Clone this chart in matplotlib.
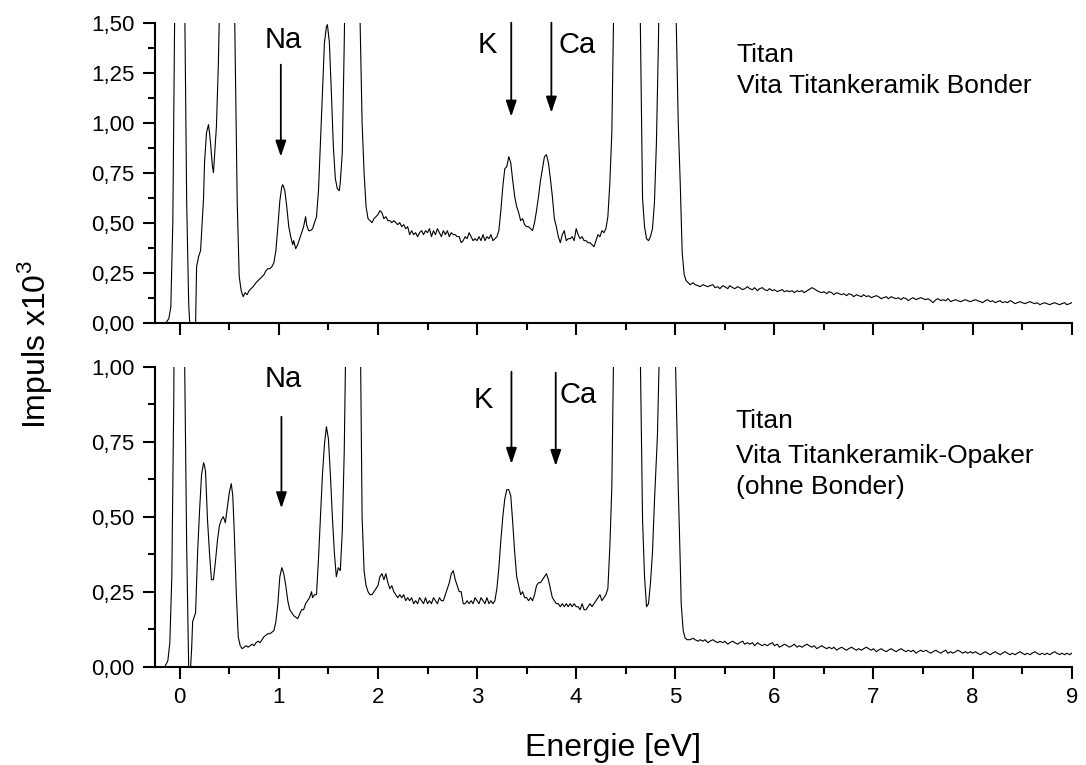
import matplotlib
matplotlib.use("Agg")
import matplotlib.pyplot as plt
from matplotlib.ticker import MultipleLocator, FuncFormatter

plt.rcParams['font.family'] = ['Liberation Sans', 'DejaVu Sans']
plt.rcParams['mathtext.fontset'] = 'custom'
plt.rcParams['mathtext.rm'] = 'Liberation Sans'

# Spektrum oben: Titan / Vita Titankeramik Bonder  (Energie eV, Impulse x10^3)
top_spectrum = [
    (-0.14, 0.0), (-0.11, 0.02), (-0.09, 0.08), (-0.07, 0.5), (-0.05, 1.6), (-0.02, 4.0),
    (0.02, 3.0), (0.05, 1.6), (0.07, 0.6), (0.09, 0.1), (0.10, 0.0), (0.12, 0.0),
    (0.14, 0.0), (0.16, 0.0), (0.17, 0.28), (0.19, 0.33), (0.21, 0.36), (0.22, 0.45),
    (0.24, 0.62), (0.25, 0.80), (0.27, 0.95), (0.29, 0.99), (0.30, 0.95), (0.31, 0.90),
    (0.33, 0.78), (0.34, 0.75), (0.36, 0.90), (0.37, 0.98), (0.39, 1.3), (0.41, 1.8),
    (0.45, 3.0), (0.50, 4.5), (0.54, 2.0), (0.555, 1.5), (0.58, 0.6), (0.60, 0.23),
    (0.62, 0.16), (0.64, 0.13), (0.66, 0.15), (0.68, 0.14), (0.70, 0.16), (0.72, 0.17),
    (0.74, 0.18), (0.77, 0.20), (0.79, 0.21), (0.81, 0.22), (0.83, 0.23), (0.85, 0.24),
    (0.87, 0.26), (0.89, 0.27), (0.91, 0.27), (0.93, 0.28), (0.95, 0.30), (0.97, 0.36),
    (0.99, 0.48), (1.01, 0.61), (1.03, 0.68), (1.04, 0.69), (1.06, 0.66), (1.08, 0.58),
    (1.10, 0.48), (1.12, 0.43), (1.14, 0.39), (1.15, 0.41), (1.17, 0.37), (1.19, 0.39),
    (1.21, 0.42), (1.23, 0.45), (1.25, 0.48), (1.27, 0.53), (1.28, 0.49), (1.30, 0.46),
    (1.32, 0.46), (1.34, 0.47), (1.36, 0.50), (1.38, 0.53), (1.40, 0.66), (1.42, 0.90),
    (1.44, 1.15), (1.46, 1.40), (1.48, 1.48), (1.49, 1.49), (1.51, 1.40), (1.53, 1.15),
    (1.55, 0.88), (1.57, 0.72), (1.59, 0.67), (1.61, 0.66), (1.62, 0.70), (1.64, 0.85),
    (1.66, 1.4), (1.69, 2.5), (1.74, 4.0), (1.79, 2.5), (1.82, 1.5), (1.84, 1.0),
    (1.86, 0.75), (1.88, 0.58), (1.90, 0.52), (1.92, 0.51), (1.94, 0.50), (1.96, 0.52),
    (1.98, 0.53), (2.00, 0.54), (2.02, 0.56), (2.04, 0.55), (2.06, 0.52), (2.08, 0.53),
    (2.10, 0.51), (2.12, 0.51), (2.14, 0.50), (2.16, 0.51), (2.18, 0.50), (2.20, 0.49),
    (2.22, 0.50), (2.24, 0.48), (2.26, 0.49), (2.28, 0.47), (2.30, 0.48), (2.32, 0.44),
    (2.34, 0.46), (2.36, 0.44), (2.38, 0.45), (2.40, 0.43), (2.42, 0.45), (2.44, 0.46),
    (2.46, 0.44), (2.48, 0.46), (2.50, 0.45), (2.52, 0.47), (2.54, 0.43), (2.56, 0.46),
    (2.58, 0.44), (2.60, 0.47), (2.62, 0.45), (2.64, 0.43), (2.66, 0.46), (2.68, 0.44),
    (2.70, 0.46), (2.72, 0.43), (2.74, 0.45), (2.76, 0.44), (2.78, 0.44), (2.80, 0.43),
    (2.82, 0.43), (2.84, 0.40), (2.86, 0.41), (2.88, 0.43), (2.90, 0.42), (2.92, 0.45),
    (2.94, 0.43), (2.96, 0.41), (2.98, 0.42), (3.00, 0.41), (3.02, 0.43), (3.04, 0.41),
    (3.06, 0.44), (3.08, 0.41), (3.10, 0.43), (3.12, 0.42), (3.14, 0.44), (3.16, 0.41),
    (3.18, 0.42), (3.20, 0.43), (3.22, 0.46), (3.24, 0.56), (3.26, 0.68), (3.28, 0.77),
    (3.30, 0.78), (3.32, 0.83), (3.34, 0.80), (3.36, 0.71), (3.38, 0.63), (3.40, 0.58),
    (3.42, 0.55), (3.44, 0.51), (3.46, 0.52), (3.48, 0.49), (3.50, 0.48), (3.52, 0.48),
    (3.54, 0.47), (3.56, 0.46), (3.58, 0.50), (3.60, 0.56), (3.62, 0.63), (3.64, 0.71),
    (3.66, 0.77), (3.68, 0.83), (3.70, 0.84), (3.72, 0.80), (3.74, 0.72), (3.76, 0.63),
    (3.78, 0.52), (3.80, 0.48), (3.82, 0.43), (3.84, 0.40), (3.86, 0.44), (3.88, 0.46),
    (3.90, 0.41), (3.92, 0.42), (3.94, 0.42), (3.96, 0.43), (3.98, 0.41), (4.00, 0.47),
    (4.02, 0.44), (4.04, 0.42), (4.06, 0.43), (4.08, 0.41), (4.10, 0.41), (4.12, 0.40),
    (4.14, 0.40), (4.16, 0.39), (4.18, 0.38), (4.20, 0.41), (4.22, 0.44), (4.24, 0.43),
    (4.26, 0.46), (4.28, 0.45), (4.30, 0.47), (4.32, 0.53), (4.34, 0.70), (4.36, 0.95),
    (4.38, 1.6), (4.42, 4.0), (4.51, 6.0), (4.60, 4.0), (4.645, 1.6), (4.67, 0.62),
    (4.69, 0.48), (4.71, 0.42), (4.73, 0.41), (4.75, 0.43), (4.77, 0.47), (4.79, 0.60),
    (4.81, 0.90), (4.83, 1.4), (4.86, 2.5), (4.93, 3.5), (4.99, 2.0), (5.01, 1.5),
    (5.03, 1.0), (5.05, 0.7), (5.07, 0.35), (5.09, 0.24), (5.11, 0.21), (5.13, 0.20),
    (5.15, 0.19), (5.18, 0.20), (5.20, 0.19), (5.23, 0.185), (5.25, 0.18), (5.28, 0.19),
    (5.30, 0.185), (5.33, 0.18), (5.35, 0.185), (5.38, 0.19), (5.40, 0.175), (5.43, 0.18),
    (5.45, 0.17), (5.48, 0.185), (5.50, 0.18), (5.53, 0.17), (5.55, 0.185), (5.58, 0.175),
    (5.60, 0.17), (5.63, 0.18), (5.65, 0.175), (5.68, 0.165), (5.70, 0.17), (5.73, 0.18),
    (5.75, 0.17), (5.78, 0.165), (5.80, 0.175), (5.83, 0.16), (5.85, 0.17), (5.88, 0.175),
    (5.90, 0.165), (5.93, 0.16), (5.95, 0.17), (5.98, 0.16), (6.00, 0.165), (6.03, 0.155),
    (6.05, 0.16), (6.08, 0.165), (6.10, 0.155), (6.13, 0.16), (6.15, 0.155), (6.18, 0.16),
    (6.20, 0.15), (6.23, 0.16), (6.25, 0.155), (6.28, 0.16), (6.30, 0.15), (6.33, 0.16),
    (6.35, 0.165), (6.38, 0.175), (6.40, 0.17), (6.43, 0.16), (6.45, 0.155), (6.48, 0.15),
    (6.50, 0.155), (6.53, 0.145), (6.55, 0.155), (6.58, 0.15), (6.60, 0.14), (6.63, 0.15),
    (6.65, 0.145), (6.68, 0.14), (6.70, 0.145), (6.73, 0.135), (6.75, 0.145), (6.78, 0.14),
    (6.80, 0.13), (6.83, 0.14), (6.85, 0.135), (6.88, 0.13), (6.90, 0.14), (6.93, 0.13),
    (6.95, 0.135), (6.98, 0.125), (7.00, 0.13), (7.03, 0.135), (7.05, 0.13), (7.08, 0.12),
    (7.10, 0.125), (7.13, 0.13), (7.15, 0.12), (7.18, 0.13), (7.20, 0.125), (7.23, 0.12),
    (7.25, 0.125), (7.28, 0.115), (7.30, 0.125), (7.33, 0.12), (7.35, 0.11), (7.38, 0.12),
    (7.40, 0.125), (7.43, 0.115), (7.45, 0.12), (7.48, 0.125), (7.50, 0.12), (7.53, 0.115),
    (7.55, 0.12), (7.58, 0.11), (7.60, 0.10), (7.63, 0.115), (7.65, 0.12), (7.68, 0.11),
    (7.70, 0.115), (7.73, 0.11), (7.75, 0.12), (7.78, 0.105), (7.80, 0.11), (7.83, 0.115),
    (7.85, 0.11), (7.88, 0.105), (7.90, 0.11), (7.93, 0.115), (7.95, 0.11), (7.98, 0.105),
    (8.00, 0.11), (8.03, 0.115), (8.05, 0.11), (8.08, 0.105), (8.10, 0.10), (8.13, 0.11),
    (8.15, 0.115), (8.18, 0.105), (8.20, 0.11), (8.23, 0.10), (8.25, 0.105), (8.28, 0.11),
    (8.30, 0.10), (8.33, 0.105), (8.35, 0.10), (8.38, 0.11), (8.40, 0.105), (8.43, 0.095),
    (8.45, 0.10), (8.48, 0.105), (8.50, 0.10), (8.53, 0.095), (8.55, 0.10), (8.58, 0.105),
    (8.60, 0.10), (8.63, 0.095), (8.65, 0.10), (8.68, 0.09), (8.70, 0.095), (8.73, 0.10),
    (8.75, 0.095), (8.78, 0.09), (8.80, 0.095), (8.83, 0.10), (8.85, 0.095), (8.88, 0.09),
    (8.90, 0.095), (8.93, 0.10), (8.95, 0.09), (8.98, 0.095), (9.00, 0.10),
]

# Spektrum unten: Titan / Vita Titankeramik-Opaker (ohne Bonder)
bottom_spectrum = [
    (-0.15, 0.0), (-0.12, 0.02), (-0.10, 0.08), (-0.08, 0.3), (-0.06, 0.9), (-0.03, 3.0),
    (0.02, 2.5), (0.05, 1.0), (0.07, 0.4), (0.09, 0.0), (0.11, 0.0), (0.12, 0.06),
    (0.13, 0.15), (0.15, 0.17), (0.16, 0.18), (0.18, 0.38), (0.20, 0.52), (0.22, 0.64),
    (0.24, 0.68), (0.25, 0.67), (0.26, 0.65), (0.28, 0.49), (0.30, 0.38), (0.32, 0.29),
    (0.34, 0.29), (0.36, 0.35), (0.38, 0.42), (0.40, 0.47), (0.42, 0.49), (0.44, 0.50),
    (0.46, 0.48), (0.48, 0.53), (0.50, 0.58), (0.52, 0.61), (0.535, 0.57), (0.55, 0.45),
    (0.57, 0.25), (0.59, 0.10), (0.61, 0.07), (0.63, 0.06), (0.65, 0.065), (0.67, 0.07),
    (0.69, 0.065), (0.71, 0.07), (0.73, 0.075), (0.75, 0.07), (0.77, 0.08), (0.79, 0.085),
    (0.81, 0.08), (0.83, 0.09), (0.85, 0.10), (0.87, 0.105), (0.89, 0.11), (0.91, 0.11),
    (0.93, 0.115), (0.95, 0.12), (0.97, 0.15), (0.99, 0.21), (1.01, 0.30), (1.03, 0.33),
    (1.05, 0.31), (1.07, 0.27), (1.09, 0.22), (1.11, 0.19), (1.13, 0.18), (1.15, 0.17),
    (1.17, 0.165), (1.19, 0.16), (1.21, 0.175), (1.23, 0.19), (1.25, 0.19), (1.27, 0.21),
    (1.29, 0.22), (1.31, 0.23), (1.33, 0.25), (1.34, 0.23), (1.36, 0.24), (1.38, 0.24),
    (1.40, 0.36), (1.42, 0.50), (1.44, 0.64), (1.46, 0.74), (1.48, 0.80), (1.50, 0.76),
    (1.52, 0.64), (1.54, 0.50), (1.56, 0.38), (1.58, 0.30), (1.60, 0.33), (1.62, 0.32),
    (1.64, 0.45), (1.66, 0.72), (1.68, 1.2), (1.72, 3.0), (1.76, 4.0), (1.80, 2.0),
    (1.82, 1.2), (1.84, 0.5), (1.86, 0.32), (1.88, 0.27), (1.90, 0.25), (1.92, 0.24),
    (1.94, 0.24), (1.96, 0.25), (1.98, 0.26), (2.00, 0.27), (2.02, 0.30), (2.04, 0.31),
    (2.06, 0.29), (2.08, 0.31), (2.10, 0.28), (2.12, 0.26), (2.14, 0.27), (2.16, 0.25),
    (2.18, 0.24), (2.20, 0.23), (2.22, 0.24), (2.24, 0.23), (2.26, 0.24), (2.28, 0.22),
    (2.30, 0.23), (2.32, 0.22), (2.34, 0.23), (2.36, 0.21), (2.38, 0.22), (2.40, 0.21),
    (2.42, 0.23), (2.44, 0.22), (2.46, 0.21), (2.48, 0.23), (2.50, 0.21), (2.52, 0.22),
    (2.54, 0.21), (2.56, 0.23), (2.58, 0.22), (2.60, 0.21), (2.62, 0.23), (2.64, 0.22),
    (2.66, 0.22), (2.68, 0.24), (2.70, 0.26), (2.72, 0.28), (2.74, 0.31), (2.76, 0.32),
    (2.78, 0.29), (2.80, 0.27), (2.82, 0.25), (2.84, 0.25), (2.86, 0.21), (2.88, 0.21),
    (2.90, 0.22), (2.92, 0.21), (2.94, 0.22), (2.96, 0.21), (2.98, 0.23), (3.00, 0.22),
    (3.02, 0.21), (3.04, 0.23), (3.06, 0.22), (3.08, 0.21), (3.10, 0.23), (3.12, 0.21),
    (3.14, 0.22), (3.16, 0.21), (3.18, 0.22), (3.20, 0.26), (3.22, 0.33), (3.24, 0.42),
    (3.26, 0.50), (3.28, 0.56), (3.30, 0.59), (3.32, 0.59), (3.34, 0.57), (3.36, 0.48),
    (3.38, 0.38), (3.40, 0.30), (3.42, 0.27), (3.44, 0.24), (3.46, 0.25), (3.48, 0.23),
    (3.50, 0.23), (3.52, 0.22), (3.54, 0.23), (3.56, 0.22), (3.58, 0.24), (3.60, 0.27),
    (3.62, 0.28), (3.64, 0.28), (3.66, 0.29), (3.68, 0.30), (3.70, 0.31), (3.72, 0.29),
    (3.74, 0.26), (3.76, 0.23), (3.78, 0.22), (3.80, 0.21), (3.82, 0.21), (3.84, 0.20),
    (3.86, 0.21), (3.88, 0.20), (3.90, 0.21), (3.92, 0.20), (3.94, 0.21), (3.96, 0.20),
    (3.98, 0.21), (4.00, 0.20), (4.02, 0.20), (4.04, 0.19), (4.06, 0.21), (4.08, 0.19),
    (4.10, 0.19), (4.12, 0.20), (4.14, 0.21), (4.16, 0.20), (4.18, 0.21), (4.20, 0.22),
    (4.22, 0.23), (4.24, 0.24), (4.26, 0.22), (4.28, 0.23), (4.30, 0.24), (4.32, 0.26),
    (4.34, 0.40), (4.36, 0.60), (4.38, 1.1), (4.42, 3.0), (4.51, 6.0), (4.60, 3.0),
    (4.645, 1.1), (4.67, 0.49), (4.69, 0.30), (4.71, 0.20), (4.73, 0.21), (4.75, 0.28),
    (4.77, 0.38), (4.79, 0.55), (4.82, 0.77), (4.85, 1.2), (4.93, 3.5), (4.99, 1.2),
    (5.03, 0.60), (5.05, 0.35), (5.06, 0.21), (5.08, 0.12), (5.10, 0.095), (5.12, 0.09),
    (5.15, 0.09), (5.18, 0.095), (5.20, 0.09), (5.23, 0.085), (5.25, 0.09), (5.28, 0.085),
    (5.30, 0.09), (5.33, 0.08), (5.35, 0.085), (5.38, 0.09), (5.40, 0.085), (5.43, 0.08),
    (5.45, 0.085), (5.48, 0.08), (5.50, 0.085), (5.53, 0.075), (5.55, 0.08), (5.58, 0.085),
    (5.60, 0.08), (5.63, 0.075), (5.65, 0.08), (5.68, 0.085), (5.70, 0.075), (5.73, 0.08),
    (5.75, 0.075), (5.78, 0.08), (5.80, 0.07), (5.83, 0.08), (5.85, 0.075), (5.88, 0.07),
    (5.90, 0.075), (5.93, 0.07), (5.95, 0.075), (5.98, 0.08), (6.00, 0.07), (6.03, 0.075),
    (6.05, 0.065), (6.08, 0.07), (6.10, 0.075), (6.13, 0.07), (6.15, 0.065), (6.18, 0.07),
    (6.20, 0.075), (6.23, 0.065), (6.25, 0.07), (6.28, 0.065), (6.30, 0.07), (6.33, 0.075),
    (6.35, 0.07), (6.38, 0.065), (6.40, 0.07), (6.43, 0.06), (6.45, 0.065), (6.48, 0.07),
    (6.50, 0.065), (6.53, 0.06), (6.55, 0.065), (6.58, 0.06), (6.60, 0.065), (6.63, 0.055),
    (6.65, 0.06), (6.68, 0.065), (6.70, 0.06), (6.73, 0.055), (6.75, 0.06), (6.78, 0.065),
    (6.80, 0.06), (6.83, 0.055), (6.85, 0.06), (6.88, 0.055), (6.90, 0.06), (6.93, 0.065),
    (6.95, 0.06), (6.98, 0.055), (7.00, 0.06), (7.03, 0.05), (7.05, 0.055), (7.08, 0.06),
    (7.10, 0.055), (7.13, 0.05), (7.15, 0.055), (7.18, 0.06), (7.20, 0.055), (7.23, 0.05),
    (7.25, 0.055), (7.28, 0.06), (7.30, 0.055), (7.33, 0.05), (7.35, 0.055), (7.38, 0.05),
    (7.40, 0.055), (7.43, 0.045), (7.45, 0.05), (7.48, 0.055), (7.50, 0.05), (7.53, 0.055),
    (7.55, 0.05), (7.58, 0.045), (7.60, 0.05), (7.63, 0.055), (7.65, 0.05), (7.68, 0.045),
    (7.70, 0.05), (7.73, 0.055), (7.75, 0.045), (7.78, 0.05), (7.80, 0.045), (7.83, 0.05),
    (7.85, 0.055), (7.88, 0.05), (7.90, 0.045), (7.93, 0.05), (7.95, 0.045), (7.98, 0.05),
    (8.00, 0.045), (8.03, 0.05), (8.05, 0.045), (8.08, 0.04), (8.10, 0.045), (8.13, 0.05),
    (8.15, 0.045), (8.18, 0.04), (8.20, 0.045), (8.23, 0.05), (8.25, 0.045), (8.28, 0.04),
    (8.30, 0.045), (8.33, 0.05), (8.35, 0.045), (8.38, 0.04), (8.40, 0.045), (8.43, 0.04),
    (8.45, 0.045), (8.48, 0.05), (8.50, 0.045), (8.53, 0.04), (8.55, 0.045), (8.58, 0.04),
    (8.60, 0.045), (8.63, 0.05), (8.65, 0.045), (8.68, 0.04), (8.70, 0.045), (8.73, 0.04),
    (8.75, 0.045), (8.78, 0.04), (8.80, 0.045), (8.83, 0.05), (8.85, 0.045), (8.88, 0.04),
    (8.90, 0.045), (8.93, 0.04), (8.95, 0.045), (8.98, 0.04), (9.00, 0.045),
]

top_e, top_v = zip(*top_spectrum)
bot_e, bot_v = zip(*bottom_spectrum)

# Elementlinien (Pfeile): Energie, Pfeil-Start, Pfeil-Spitze
top_arrows = [(1.02, 1.29, 0.83), (3.345, 1.50, 1.03), (3.75, 1.50, 1.05)]
bot_arrows = [(1.026, 0.833, 0.528), (3.347, 0.983, 0.676), (3.794, 0.98, 0.669)]

FS_TICK = 16
FS_LABEL = 23
FS_ELEM = 21
FS_INFO = 19

fig = plt.figure(figsize=(10.86, 7.65), dpi=100)
ax1 = fig.add_axes([0.1427, 0.5782, 0.8441, 0.3922])
ax2 = fig.add_axes([0.1427, 0.1285, 0.8441, 0.3922])

comma = FuncFormatter(lambda v, p: f"{v:.2f}".replace(".", ","))

for ax in (ax1, ax2):
    ax.set_xlim(-0.25, 9)
    ax.xaxis.set_major_locator(MultipleLocator(1))
    ax.xaxis.set_minor_locator(MultipleLocator(0.5))
    ax.yaxis.set_major_locator(MultipleLocator(0.25))
    ax.yaxis.set_minor_locator(MultipleLocator(0.125))
    ax.yaxis.set_major_formatter(comma)
    ax.spines["top"].set_visible(False)
    ax.spines["right"].set_visible(False)
    for s in ("left", "bottom"):
        ax.spines[s].set_linewidth(1.5)
    ax.tick_params(which="major", direction="out", length=8.5, width=1.5,
                   labelsize=FS_TICK, pad=6)
    ax.tick_params(which="minor", direction="out", length=5, width=1.5)

ax1.set_ylim(0, 1.5)
ax2.set_ylim(0, 1.0)
ax1.tick_params(labelbottom=False)

ax1.plot(top_e, top_v, color="black", linewidth=0.8)
ax2.plot(bot_e, bot_v, color="black", linewidth=0.8)

arrow_kw = dict(arrowstyle="-|>,head_length=0.8,head_width=0.27", color="black",
                lw=1.3, mutation_scale=12, shrinkA=0, shrinkB=0)
for ax, arrows in ((ax1, top_arrows), (ax2, bot_arrows)):
    for x, y0, y1 in arrows:
        ax.annotate("", xy=(x, y1), xytext=(x, y0), arrowprops=arrow_kw)

# Beschriftungen oben
ax1.text(1.044, 1.373, "Na", ha="center", va="baseline", fontsize=FS_ELEM)
ax1.text(3.103, 1.35, "K", ha="center", va="baseline", fontsize=FS_ELEM)
ax1.text(3.82, 1.35, "Ca", ha="left", va="baseline", fontsize=FS_ELEM)
ax1.text(5.62, 1.305, "Titan", ha="left", va="baseline", fontsize=FS_INFO)
ax1.text(5.62, 1.15, "Vita Titankeramik Bonder", ha="left", va="baseline", fontsize=FS_INFO)

# Beschriftungen unten
ax2.text(1.045, 0.933, "Na", ha="center", va="baseline", fontsize=FS_ELEM)
ax2.text(3.06, 0.861, "K", ha="center", va="baseline", fontsize=FS_ELEM)
ax2.text(3.83, 0.878, "Ca", ha="left", va="baseline", fontsize=FS_ELEM)
ax2.text(5.61, 0.796, "Titan", ha="left", va="baseline", fontsize=FS_INFO)
ax2.text(5.61, 0.679, "Vita Titankeramik-Opaker", ha="left", va="baseline", fontsize=FS_INFO)
ax2.text(5.61, 0.576, "(ohne Bonder)", ha="left", va="baseline", fontsize=FS_INFO)

fig.text(613 / 1086, (765 - 748) / 765, "Energie [eV]", ha="center", va="center", fontsize=FS_LABEL)
fig.text(34 / 1086, (765 - 345) / 765, r"Impuls x10$^3$", ha="center", va="center",
         rotation=90, fontsize=FS_LABEL)

fig.savefig("out.png", dpi=100)
